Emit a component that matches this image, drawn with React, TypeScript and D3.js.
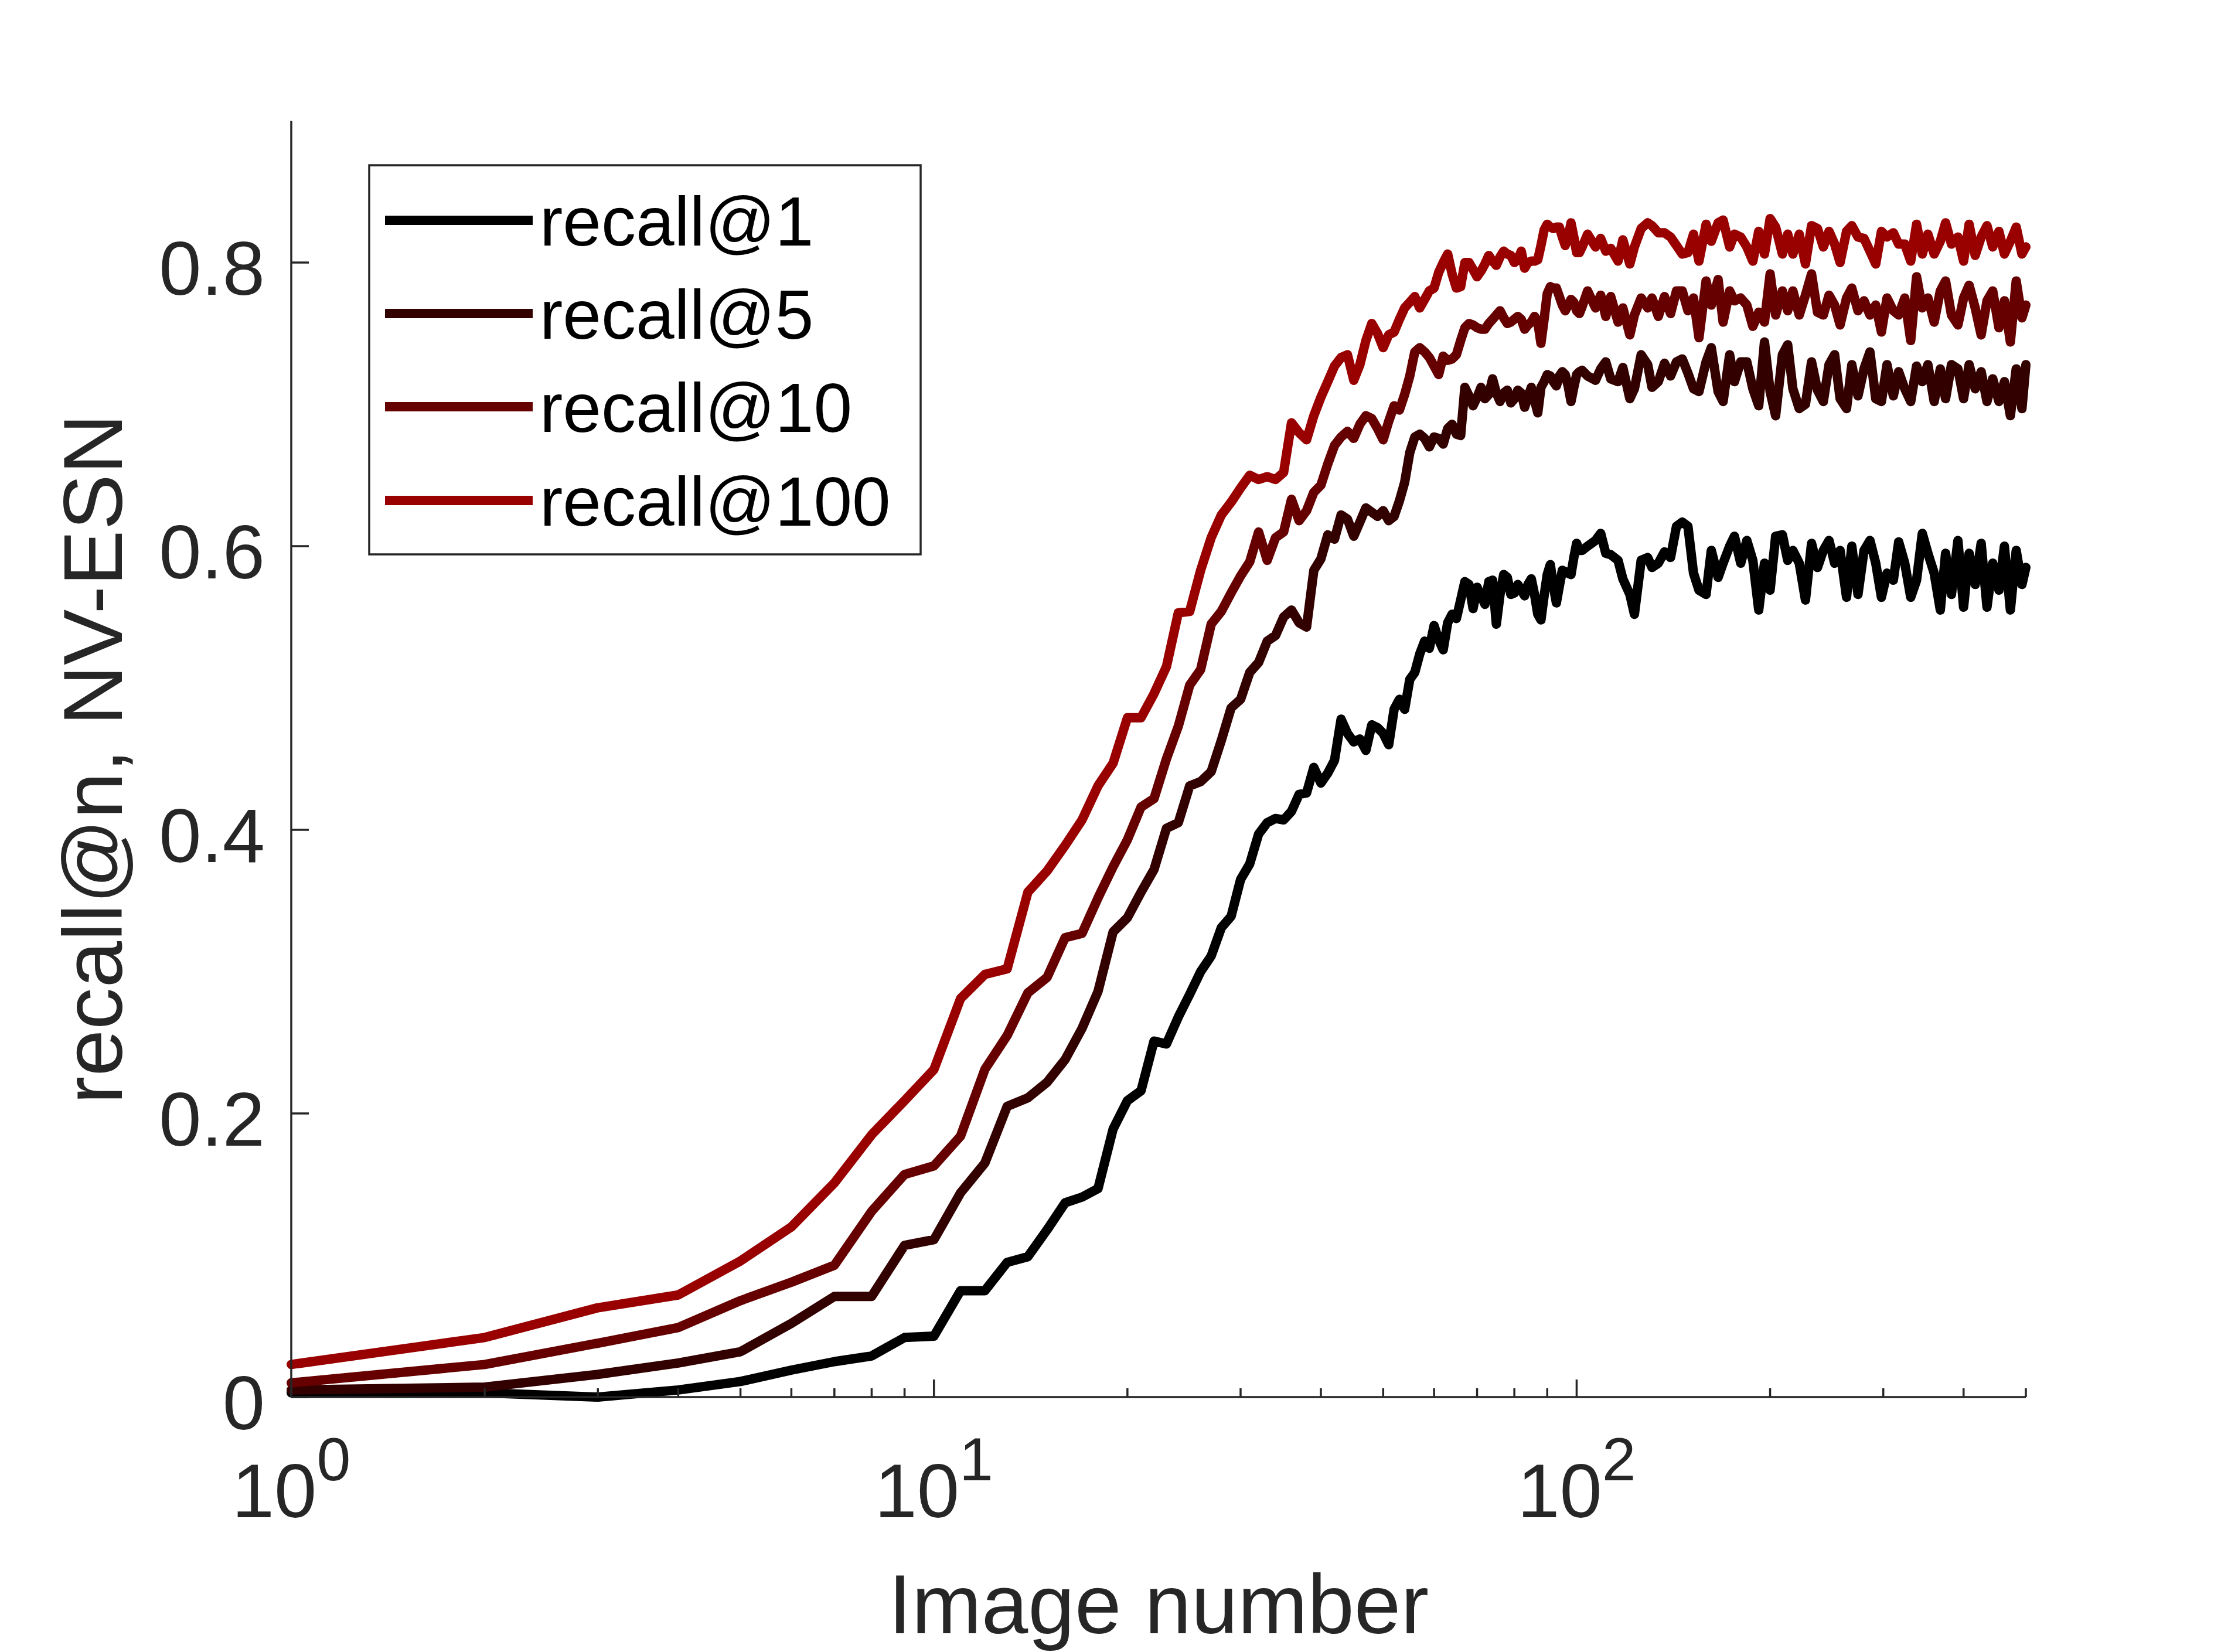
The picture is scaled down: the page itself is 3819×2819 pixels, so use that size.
import React from "react";
import * as d3 from "d3";

// image index (x) : dense up to 101, then sampled along the noisy tail
const imageNumber = [
  1, 2, 3, 4, 5, 6, 7, 8, 9, 10, 11, 12, 13, 14, 15, 16, 17, 18, 19, 20,
  21, 22, 23, 24, 25, 26, 27, 28, 29, 30, 31, 32, 33, 34, 35, 36, 37, 38, 39, 40,
  41, 42, 43, 44, 45, 46, 47, 48, 49, 50, 51, 52, 53, 54, 55, 56, 57, 58, 59, 60,
  61, 62, 63, 64, 65, 66, 67, 68, 69, 70, 71, 72, 73, 74, 75, 76, 77, 78, 79, 80,
  81, 82, 83, 84, 85, 86, 87, 88, 89, 90, 91, 92, 93, 94, 95, 96, 97, 98, 99, 100, 101,
  102, 104, 107, 109, 111, 113, 116, 118, 121, 123, 126, 129, 131, 134, 137, 140, 143, 146, 149, 152,
  155, 159, 162, 166, 169, 173, 176, 180, 184, 188, 192, 196, 200, 204, 209, 213, 217, 222, 227, 232,
  237, 242, 247, 252, 257, 263, 268, 274, 280, 286, 292, 298, 304, 311, 317, 324, 331, 338, 345, 352,
  360, 368, 375, 383, 392, 400, 408, 417, 426, 435, 444, 454, 463, 473, 483, 493, 500,
];

const recall1 = [
  0.003, 0.003, 0.0, 0.005, 0.011, 0.019, 0.025, 0.029, 0.042, 0.043,
  0.075, 0.075, 0.095, 0.099, 0.118, 0.137, 0.141, 0.147, 0.189, 0.209,
  0.216, 0.251, 0.249, 0.268, 0.284, 0.3, 0.311, 0.331, 0.339, 0.365,
  0.376, 0.397, 0.405, 0.408, 0.407, 0.413, 0.425, 0.426, 0.444, 0.433,
  0.44, 0.449, 0.478, 0.468, 0.462, 0.464, 0.456, 0.474, 0.472, 0.468,
  0.46, 0.485, 0.492, 0.485, 0.506, 0.511, 0.524, 0.533, 0.528, 0.544,
  0.534, 0.527, 0.546, 0.552, 0.549, 0.562, 0.575, 0.573, 0.556, 0.571,
  0.565, 0.559, 0.575, 0.576, 0.545, 0.566, 0.58, 0.578, 0.566, 0.567,
  0.573, 0.569, 0.565, 0.573, 0.577, 0.566, 0.552, 0.548, 0.565, 0.58,
  0.587, 0.572, 0.56, 0.572, 0.583, 0.582, 0.581, 0.58, 0.592, 0.602, 0.597,
  0.597, 0.6, 0.604, 0.609, 0.595, 0.594, 0.59, 0.577, 0.566, 0.552,
  0.59, 0.592, 0.585, 0.588, 0.596, 0.592, 0.614, 0.617, 0.614, 0.581,
  0.569, 0.566, 0.597, 0.578, 0.588, 0.6, 0.607, 0.588, 0.604, 0.59,
  0.555, 0.588, 0.569, 0.607, 0.608, 0.59, 0.597, 0.588, 0.562, 0.602,
  0.585, 0.597, 0.604, 0.588, 0.597, 0.564, 0.6, 0.566, 0.597, 0.604,
  0.588, 0.564, 0.581, 0.576, 0.603, 0.588, 0.564, 0.576, 0.609, 0.595,
  0.581, 0.555, 0.595, 0.566, 0.604, 0.557, 0.595, 0.573, 0.602, 0.557,
  0.588, 0.569, 0.6, 0.555, 0.597, 0.573, 0.585,
];

const recall5 = [
  0.005, 0.007, 0.016, 0.024, 0.032, 0.052, 0.071, 0.071, 0.107, 0.111,
  0.144, 0.165, 0.205, 0.211, 0.222, 0.238, 0.26, 0.286, 0.328, 0.338,
  0.356, 0.372, 0.401, 0.405, 0.431, 0.434, 0.441, 0.463, 0.486, 0.492,
  0.511, 0.518, 0.533, 0.537, 0.55, 0.555, 0.546, 0.543, 0.583, 0.591,
  0.608, 0.605, 0.622, 0.619, 0.607, 0.617, 0.627, 0.624, 0.621, 0.625,
  0.618, 0.621, 0.632, 0.645, 0.666, 0.677, 0.679, 0.676, 0.67, 0.677,
  0.676, 0.672, 0.683, 0.686, 0.679, 0.678, 0.712, 0.706, 0.699, 0.705,
  0.712, 0.704, 0.707, 0.718, 0.708, 0.702, 0.708, 0.71, 0.701, 0.704,
  0.71, 0.708, 0.698, 0.705, 0.712, 0.703, 0.694, 0.712, 0.716, 0.721,
  0.72, 0.716, 0.713, 0.72, 0.723, 0.721, 0.713, 0.702, 0.712, 0.721, 0.723,
  0.724, 0.72, 0.717, 0.725, 0.73, 0.718, 0.716, 0.726, 0.704, 0.711,
  0.735, 0.728, 0.712, 0.716, 0.729, 0.72, 0.73, 0.732, 0.722, 0.711,
  0.709, 0.73, 0.74, 0.709, 0.702, 0.735, 0.716, 0.73, 0.73, 0.711,
  0.699, 0.744, 0.709, 0.692, 0.735, 0.742, 0.711, 0.697, 0.7, 0.73,
  0.71, 0.702, 0.728, 0.735, 0.704, 0.697, 0.728, 0.706, 0.725, 0.737,
  0.704, 0.702, 0.728, 0.706, 0.723, 0.711, 0.702, 0.727, 0.716, 0.728,
  0.702, 0.725, 0.704, 0.728, 0.725, 0.704, 0.728, 0.711, 0.723, 0.702,
  0.718, 0.702, 0.716, 0.692, 0.725, 0.697, 0.728,
];

const recall10 = [
  0.01, 0.023, 0.038, 0.049, 0.068, 0.081, 0.093, 0.131, 0.157, 0.163,
  0.184, 0.231, 0.255, 0.285, 0.296, 0.324, 0.327, 0.352, 0.374, 0.393,
  0.416, 0.422, 0.45, 0.473, 0.502, 0.513, 0.545, 0.554, 0.567, 0.579,
  0.589, 0.61, 0.59, 0.606, 0.61, 0.633, 0.618, 0.625, 0.638, 0.643,
  0.658, 0.671, 0.677, 0.681, 0.676, 0.686, 0.692, 0.69, 0.683, 0.675,
  0.688, 0.699, 0.696, 0.707, 0.72, 0.737, 0.74, 0.737, 0.733, 0.727,
  0.721, 0.734, 0.731, 0.732, 0.735, 0.745, 0.754, 0.757, 0.756, 0.754,
  0.753, 0.753, 0.757, 0.76, 0.763, 0.766, 0.761, 0.757, 0.758, 0.76,
  0.762, 0.76, 0.753, 0.756, 0.758, 0.762, 0.758, 0.743, 0.76, 0.778,
  0.783, 0.782, 0.782, 0.776, 0.77, 0.766, 0.77, 0.774, 0.772, 0.766, 0.764,
  0.769, 0.78, 0.768, 0.777, 0.762, 0.776, 0.758, 0.768, 0.749, 0.763,
  0.775, 0.768, 0.775, 0.762, 0.776, 0.764, 0.78, 0.78, 0.766, 0.775,
  0.747, 0.787, 0.77, 0.788, 0.758, 0.78, 0.773, 0.775, 0.77, 0.755,
  0.765, 0.758, 0.792, 0.763, 0.78, 0.766, 0.78, 0.763, 0.777, 0.792,
  0.765, 0.763, 0.777, 0.77, 0.756, 0.775, 0.782, 0.766, 0.773, 0.763,
  0.77, 0.751, 0.775, 0.766, 0.763, 0.775, 0.745, 0.79, 0.768, 0.775,
  0.758, 0.78, 0.787, 0.763, 0.756, 0.775, 0.784, 0.768, 0.749, 0.773,
  0.78, 0.754, 0.773, 0.744, 0.787, 0.761, 0.77,
];

const recall100 = [
  0.023, 0.042, 0.063, 0.072, 0.096, 0.12, 0.151, 0.185, 0.209, 0.231,
  0.281, 0.298, 0.302, 0.356, 0.371, 0.389, 0.407, 0.431, 0.447, 0.479,
  0.479, 0.496, 0.515, 0.553, 0.554, 0.583, 0.606, 0.622, 0.631, 0.641,
  0.65, 0.647, 0.649, 0.647, 0.652, 0.687, 0.68, 0.675, 0.692, 0.705,
  0.716, 0.727, 0.733, 0.735, 0.717, 0.728, 0.745, 0.757, 0.75, 0.74,
  0.749, 0.751, 0.76, 0.768, 0.772, 0.776, 0.768, 0.774, 0.78, 0.782,
  0.793, 0.8, 0.806, 0.792, 0.782, 0.783, 0.8, 0.8, 0.795, 0.79,
  0.794, 0.799, 0.805, 0.801, 0.798, 0.804, 0.808, 0.806, 0.805, 0.8,
  0.802, 0.808, 0.796, 0.8, 0.801, 0.801, 0.802, 0.812, 0.823, 0.827,
  0.825, 0.824, 0.825, 0.825, 0.818, 0.812, 0.818, 0.828, 0.818, 0.807, 0.807,
  0.811, 0.82, 0.811, 0.817, 0.808, 0.81, 0.801, 0.816, 0.799, 0.811,
  0.824, 0.828, 0.826, 0.821, 0.821, 0.818, 0.812, 0.806, 0.807, 0.82,
  0.801, 0.827, 0.815, 0.828, 0.83, 0.811, 0.82, 0.818, 0.811, 0.801,
  0.822, 0.806, 0.831, 0.825, 0.806, 0.82, 0.806, 0.82, 0.799, 0.826,
  0.824, 0.811, 0.822, 0.813, 0.8, 0.822, 0.826, 0.818, 0.817, 0.808,
  0.799, 0.822, 0.818, 0.821, 0.813, 0.813, 0.801, 0.827, 0.806, 0.82,
  0.806, 0.815, 0.828, 0.813, 0.818, 0.801, 0.827, 0.805, 0.818, 0.826,
  0.811, 0.822, 0.806, 0.815, 0.825, 0.806, 0.811,
];

const seriesNames = ["recall@1", "recall@5", "recall@10", "recall@100"];
const seriesValues = [recall1, recall5, recall10, recall100];
const seriesColors = ["#000000", "#330000", "#660000", "#990000"];

const yTicks = [0, 0.2, 0.4, 0.6, 0.8];
const yTickLabels = ["0", "0.2", "0.4", "0.6", "0.8"];
const xMajorTicks = [1, 10, 100];
const xMajorExponents = ["0", "1", "2"];
const xMinorTicks = [
  2, 3, 4, 5, 6, 7, 8, 9, 20, 30, 40, 50, 60, 70, 80, 90, 200, 300, 400, 500,
];

const W = 3819;
const H = 2819;
const left = 497;
const right = 3457;
const top = 206;
const bottom = 2384;
const axisColor = "#262626";
const font = "'Liberation Sans', Arial, Helvetica, sans-serif";

export default function App() {
  const x = d3.scaleLog().domain([1, 500]).range([left, right]);
  const y = d3.scaleLinear().domain([0, 0.9]).range([bottom, top]);

  const line = d3
    .line<number>()
    .x((_, i) => x(imageNumber[i]))
    .y((d) => y(d));

  const legendX = 630;
  const legendY = 282;
  const legendW = 941;
  const legendH = 664;
  const rowY = [376, 535, 694, 854];

  return (
    <svg
      width={W}
      height={H}
      style={{ position: "absolute", left: 0, top: 0, background: "#fff" }}
      fontFamily={font}
    >
      <rect x={0} y={0} width={W} height={H} fill="#fff" />

      {/* data lines */}
      {seriesValues.map((vals, k) => (
        <path
          key={seriesNames[k]}
          d={line(vals) ?? ""}
          fill="none"
          stroke={seriesColors[k]}
          strokeWidth={16}
          strokeLinejoin="round"
          strokeLinecap="round"
        />
      ))}

      {/* axes */}
      <line x1={left} x2={left} y1={top} y2={bottom} stroke={axisColor} strokeWidth={3.5} />
      <line x1={left} x2={right} y1={bottom} y2={bottom} stroke={axisColor} strokeWidth={3.5} />

      {yTicks.map((t, i) => (
        <g key={"y" + t}>
          <line x1={left} x2={left + 30} y1={y(t)} y2={y(t)} stroke={axisColor} strokeWidth={3.5} />
          <text
            x={452}
            y={y(t) + 55}
            textAnchor="end"
            fontSize={130}
            fill={axisColor}
          >
            {yTickLabels[i]}
          </text>
        </g>
      ))}

      {xMajorTicks.map((t, i) => (
        <g key={"x" + t}>
          <line x1={x(t)} x2={x(t)} y1={bottom} y2={bottom - 30} stroke={axisColor} strokeWidth={3.5} />
          <text x={x(t)} y={2589} textAnchor="middle" fontSize={130} fill={axisColor}>
            <tspan>10</tspan>
            <tspan dy={-63} fontSize={104}>
              {xMajorExponents[i]}
            </tspan>
          </text>
        </g>
      ))}
      {xMinorTicks.map((t) => (
        <line
          key={"m" + t}
          x1={x(t)}
          x2={x(t)}
          y1={bottom}
          y2={bottom - 15}
          stroke={axisColor}
          strokeWidth={3.5}
        />
      ))}

      {/* axis labels */}
      <text
        x={(left + right) / 2}
        y={2787}
        textAnchor="middle"
        fontSize={143}
        fill={axisColor}
      >
        Image number
      </text>
      <text
        transform={`translate(208, ${(top + bottom) / 2}) rotate(-90)`}
        textAnchor="middle"
        fontSize={143}
        fill={axisColor}
      >
        recall@n, NV-ESN
      </text>

      {/* legend */}
      <rect
        x={legendX}
        y={legendY}
        width={legendW}
        height={legendH}
        fill="#fff"
        stroke={axisColor}
        strokeWidth={3.5}
      />
      {seriesNames.map((name, k) => (
        <g key={"lg" + name}>
          <line
            x1={657}
            x2={909}
            y1={rowY[k]}
            y2={rowY[k]}
            stroke={seriesColors[k]}
            strokeWidth={16}
          />
          <text x={921} y={rowY[k] + 43} fontSize={118} fill="#000">
            {name}
          </text>
        </g>
      ))}
    </svg>
  );
}
